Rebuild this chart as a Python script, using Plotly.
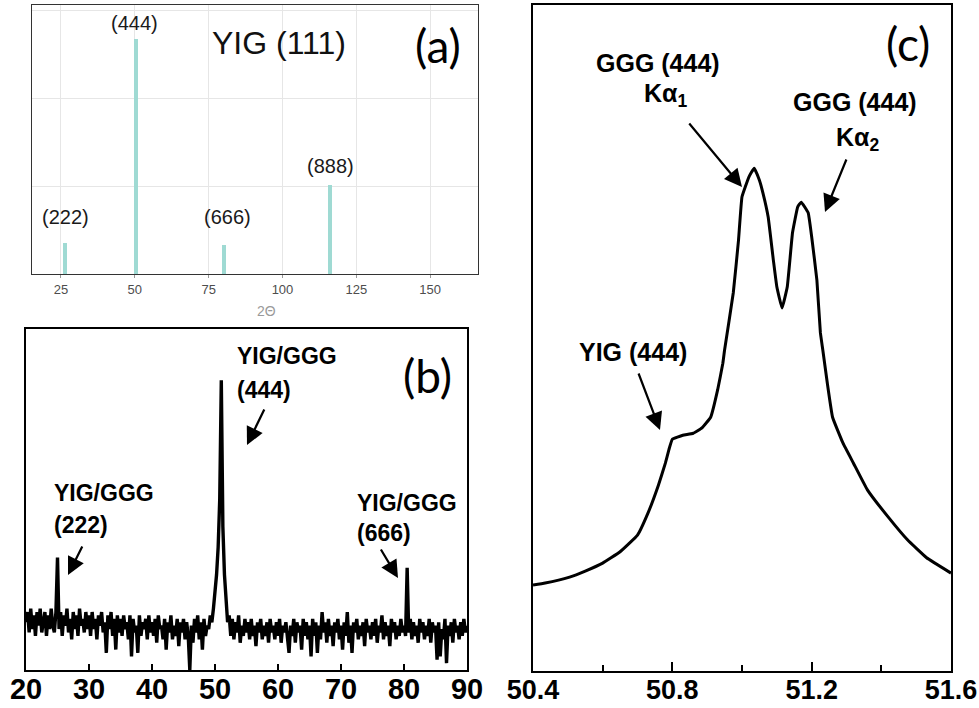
import numpy as np
import plotly.graph_objects as go

W, H = 979, 708

# ---------------- data ----------------
# (a) reference stick pattern, YIG (111)
a_pos = [26.5, 50.4, 80.1, 116.0]
a_int = [0.35, 2.67, 0.33, 1.01]
a_lbl = ["(222)", "(444)", "(666)", "(888)"]
a_ticks = [25, 50, 75, 100, 125, 150]

# (b) measured scan 20-90 deg, step 0.25 deg
b_start, b_step = 20.0, 0.25
b_int = [
    14, 17, 11, 18, 12, 16, 10, 17, 13, 18, 11, 15, 17, 10, 16, 12, 18, 13, 11, 17,
    33,
    12, 17, 10, 16, 13, 18, 11, 15, 9, 17, 12, 16, 10, 18, 13, 15, 11, 17, 12,
    16, 10, 17, 12, 15, 9, 16, 13, 17, 11, 14, 5, 16, 12, 17, 10, 15, 6, 16, 11,
    15, 10, 16, 12, 14, 9, 16, 4, 15, 11, 13, 5, 16, 10, 14, 12, 15, 9, 16, 11,
    14, 10, 15, 8, 16, 12, 13, 9, 15, 6, 14, 11, 16, 9, 13, 10, 15, 7, 14, 11,
    15, 9, 14, 10, 0, 13, 8, 15, 11, 16, 9, 14, 6, 15, 10, 13, 12, 16, 14, 18,
    22, 28, 36, 50, 85, 42, 28, 19, 14,
    16, 10, 15, 9, 14, 11, 16, 8, 13, 10, 15,
    11, 14, 9, 15, 10, 13, 7, 14, 11, 15, 9, 13, 10, 14, 8, 15, 11, 13, 9, 14,
    10, 15, 8, 13, 11, 14, 9, 5, 13, 10, 15, 8, 14, 11, 13, 6, 15, 10, 14, 9,
    13, 4, 15, 10, 14, 5, 13, 9, 17, 11, 14, 8, 15, 10, 13, 7, 14, 11, 15, 9,
    13, 6, 14, 10, 17, 8, 13, 5, 14, 11, 15, 9, 13, 10, 14, 7, 15, 11, 13, 9,
    14, 10, 15, 8, 13, 11, 16, 9, 14, 10, 13, 7, 15, 11, 14, 9, 13, 10, 15, 11,
    13, 10,
    30,
    11, 15, 9, 14, 10, 13, 8, 15, 11, 14, 9, 13, 10, 15, 8, 14, 11,
    13, 3, 14, 4, 12, 9, 15, 2, 13, 10, 14, 8, 15, 11, 13, 9, 14, 10, 15, 11, 13,
]
b_x = b_start + b_step * np.arange(len(b_int))
b_ticks = [20, 30, 40, 50, 60, 70, 80, 90]

# (c) zoom on the (444) reflection
c_x = [50.40, 50.435, 50.505, 50.55, 50.60, 50.65, 50.70, 50.73, 50.76, 50.78,
       50.79, 50.80, 50.83, 50.86, 50.885, 50.91, 50.93, 50.945, 50.95, 50.975,
       50.99, 51.00, 51.02, 51.035, 51.05, 51.06, 51.075, 51.09, 51.10, 51.115,
       51.13, 51.145, 51.16, 51.17, 51.19, 51.20, 51.215, 51.225, 51.232, 51.245,
       51.26, 51.29, 51.32, 51.36, 51.42, 51.475, 51.53, 51.60]
c_y = [12.9, 13.2, 14.1, 15.0, 16.2, 17.9, 20.4, 23.7, 27.9, 31.2,
       33.2, 34.8, 35.4, 35.7, 36.5, 38.1, 42.2, 46.2, 48.2, 56.8,
       64.7, 71.2, 74.2, 75.5, 73.7, 71.8, 68.2, 61.7, 57.7, 54.5,
       57.7, 65.8, 69.7, 70.4, 68.8, 65.2, 58.7, 50.8, 48.2, 43.2,
       38.1, 34.2, 31.2, 27.2, 23.1, 19.7, 17.0, 14.7]
c_ticks = [50.4, 50.8, 51.2, 51.6]


def px(x):
    return x / W


def py(y):
    return 1 - y / H


fig = go.Figure()

# (a)
fig.add_trace(go.Bar(x=a_pos, y=a_int, width=1.4, marker=dict(color="#9fdad3", line_width=0),
                     xaxis="x", yaxis="y", showlegend=False))
# (b)
fig.add_trace(go.Scatter(x=b_x, y=b_int, mode="lines", line=dict(color="black", width=3.4),
                         xaxis="x2", yaxis="y2", showlegend=False))
# (c)
fig.add_trace(go.Scatter(x=c_x, y=c_y, mode="lines", line=dict(color="black", width=3, shape="spline", smoothing=0.3),
                         xaxis="x3", yaxis="y3", showlegend=False))

arial = "Liberation Sans, Arial, sans-serif"
letter_font = "Lato, Open Sans, sans-serif"

fig.update_layout(
    width=W, height=H, margin=dict(l=0, r=0, t=0, b=0, autoexpand=False),
    paper_bgcolor="white", plot_bgcolor="white",
    xaxis=dict(domain=[px(32), px(478)], range=[15.2, 166.2], tickvals=a_ticks, automargin=False,
               showgrid=True, gridcolor="#e6e6e6", gridwidth=1,
               showline=True, linecolor="#333333", linewidth=1.3, mirror=True,
               ticks="outside", ticklen=3, tickcolor="#999999", zeroline=False,
               tickfont=dict(family="Liberation Sans Narrow, Arial Narrow, Liberation Sans", size=13, color="#4d4d4d"),
               anchor="y"),
    yaxis=dict(domain=[py(274), py(5)], range=[0, 3.06], dtick=1, automargin=False,
               showgrid=True, gridcolor="#e6e6e6", gridwidth=1,
               showline=True, linecolor="#333333", linewidth=1.3, mirror=True,
               showticklabels=False, ticks="", zeroline=False, anchor="x"),
    xaxis2=dict(domain=[px(26), px(467)], range=[20, 90], tickvals=b_ticks, automargin=False,
                showgrid=False, showline=True, linecolor="black", linewidth=2, mirror=True,
                ticks="inside", ticklen=6, tickwidth=2, tickcolor="black", zeroline=False,
                ticklabelstandoff=-8,
                tickfont=dict(family=arial, size=29, color="black", weight="bold"), anchor="y2"),
    yaxis2=dict(domain=[py(670), py(329)], range=[0, 100], showgrid=False, automargin=False,
                showline=True, linecolor="black", linewidth=2, mirror=True,
                showticklabels=False, ticks="", zeroline=False, anchor="x2"),
    xaxis3=dict(domain=[px(533), px(951)], range=[50.4, 51.6], tickvals=c_ticks, automargin=False,
                ticktext=["50.4", "50.8", "51.2", "51.6"],
                showgrid=False, showline=True, linecolor="black", linewidth=2, mirror=True,
                ticks="inside", ticklen=9, tickwidth=2, tickcolor="black", zeroline=False,
                ticklabelstandoff=-6,
                minor=dict(tickvals=[50.6, 51.0, 51.4], ticks="inside", ticklen=6, tickwidth=2, tickcolor="black"),
                tickfont=dict(family=arial, size=27, color="black", weight="bold"), anchor="y3"),
    yaxis3=dict(domain=[py(671), py(5)], range=[0, 100], showgrid=False, automargin=False,
                showline=True, linecolor="black", linewidth=2, mirror=True,
                showticklabels=False, ticks="", zeroline=False, anchor="x3"),
    bargap=0,
)


def txt(x, y, s, size, family=arial, bold=False, color="black", xanchor="center"):
    fig.add_annotation(x=px(x), y=py(y), xref="paper", yref="paper", text=s, showarrow=False,
                       xanchor=xanchor, yanchor="middle",
                       font=dict(family=family, size=size, color=color, weight="bold" if bold else "normal"))


def arrow(tx, ty, hx, hy):
    fig.add_annotation(x=px(hx), y=py(hy), xref="paper", yref="paper", text="",
                       showarrow=True, axref="pixel", ayref="pixel", ax=tx - hx, ay=ty - hy,
                       arrowhead=2, arrowsize=1.6, arrowwidth=2.2, arrowcolor="black")


# (a) texts
for lbl, (lx, ly) in zip(a_lbl, [(65, 217), (134, 23), (227, 217), (330, 166)]):
    txt(lx, ly, lbl, 20, color="#1a1a1a")
txt(279, 43, "YIG (111)", 32, color="#111111")
txt(438, 45, "(a)", 46, family=letter_font)
txt(266, 311, "2Θ", 14, color="#9a9a9a")

# (b) texts
txt(235, 356, "YIG/GGG", 23, bold=True, xanchor="left")
txt(235, 390, "(444)", 23, bold=True, xanchor="left")
txt(52, 493, "YIG/GGG", 23, bold=True, xanchor="left")
txt(52, 525, "(222)", 23, bold=True, xanchor="left")
txt(355, 503, "YIG/GGG", 23, bold=True, xanchor="left")
txt(355, 533, "(666)", 23, bold=True, xanchor="left")
txt(427, 375, "(b)", 46, family=letter_font)
arrow(265, 408, 247, 445)
arrow(83, 545, 68, 575)
arrow(380, 548, 398, 578)

# (c) texts
txt(658, 63, "GGG (444)", 25, bold=True)
txt(665, 95, "Kα<sub>1</sub>", 25, bold=True)
txt(855, 102, "GGG (444)", 25, bold=True)
txt(857, 139, "Kα<sub>2</sub>", 25, bold=True)
txt(633, 352, "YIG (444)", 25, bold=True)
txt(908, 43, "(c)", 46, family=letter_font)
arrow(688, 122, 742, 187)
arrow(847, 158, 825, 212)
arrow(638, 372, 660, 430)

fig.write_html("out.html")
